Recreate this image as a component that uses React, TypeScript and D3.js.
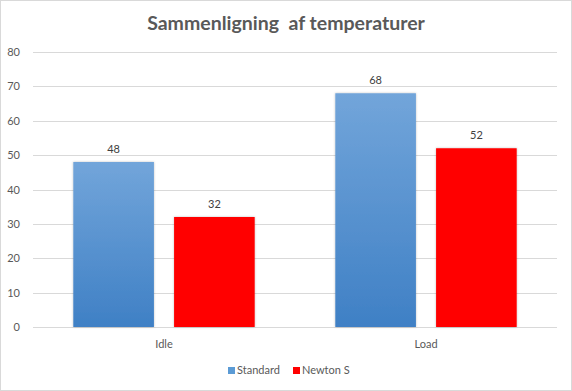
import React, { useRef, useEffect } from 'react'
import * as d3 from 'd3'

const categories = ['Idle', 'Load']
const seriesNames = ['Standard', 'Newton S']
const standardValues = [48, 68]
const newtonValues = [32, 52]
const yTicks = [0, 10, 20, 30, 40, 50, 60, 70, 80]

const width = 572
const height = 391
const font = 'Lato, "Open Sans", sans-serif'

const App = () => {
  const ref = useRef<SVGSVGElement>(null)

  useEffect(() => {
    document.body.style.margin = '0'
    const svg = d3.select(ref.current)
    svg.selectAll('*').remove()

    const margin = { top: 52, right: 15, bottom: 63, left: 33 }
    const x0 = d3.scaleBand().domain(categories).range([margin.left, width - margin.right]).paddingInner(0).paddingOuter(0)
    const x1 = d3.scaleBand().domain(seriesNames).range([0, x0.bandwidth()]).paddingInner(0.2).paddingOuter(0.4)
    const y = d3.scaleLinear().domain([0, 80]).range([height - margin.bottom - 1, margin.top])

    const defs = svg.append('defs')
    const grad = defs.append('linearGradient').attr('id', 'blueGrad').attr('x1', 0).attr('y1', 0).attr('x2', 0).attr('y2', 1)
    grad.append('stop').attr('offset', '0%').attr('stop-color', '#72a5da')
    grad.append('stop').attr('offset', '100%').attr('stop-color', '#3f80c5')
    const shadow = defs.append('filter').attr('id', 'shadow').attr('x', '-10%').attr('y', '-10%').attr('width', '120%').attr('height', '120%')
    shadow.append('feDropShadow').attr('dx', 0).attr('dy', 0).attr('stdDeviation', 1.2).attr('flood-color', '#000').attr('flood-opacity', 0.25)

    svg.append('rect').attr('x', 0.5).attr('y', 0.5).attr('width', width - 1).attr('height', height - 1)
      .attr('fill', '#fff').attr('stroke', '#d9d9d9')

    svg.append('text').attr('x', width / 2).attr('y', 30).attr('text-anchor', 'middle')
      .attr('font-family', font).attr('font-size', 19.5).attr('font-weight', 'bold').attr('fill', '#595959')
      .attr('xml:space', 'preserve')
      .text('Sammenligning  af temperaturer')

    const grid = svg.append('g')
    grid.selectAll('line').data(yTicks).enter().append('line')
      .attr('x1', margin.left).attr('x2', width - margin.right)
      .attr('y1', d => Math.round(y(d)) + 0.5).attr('y2', d => Math.round(y(d)) + 0.5)
      .attr('stroke', '#d9d9d9')

    grid.selectAll('text').data(yTicks).enter().append('text')
      .attr('x', 20).attr('y', d => y(d) + 4).attr('text-anchor', 'end')
      .attr('font-family', font).attr('font-size', 11).attr('fill', '#595959')
      .text(d => d)

    const series = [
      { name: seriesNames[0], values: standardValues, fill: 'url(#blueGrad)' },
      { name: seriesNames[1], values: newtonValues, fill: '#ff0000' }
    ]

    series.forEach(s => {
      const g = svg.append('g')
      g.selectAll('rect').data(s.values).enter().append('rect')
        .attr('x', (d, i) => x0(categories[i])! + x1(s.name)!)
        .attr('y', d => y(d))
        .attr('width', x1.bandwidth())
        .attr('height', d => y(0) - y(d))
        .attr('fill', s.fill)
        .attr('filter', 'url(#shadow)')
      g.selectAll('text').data(s.values).enter().append('text')
        .attr('x', (d, i) => x0(categories[i])! + x1(s.name)! + x1.bandwidth() / 2)
        .attr('y', d => y(d) - 9)
        .attr('text-anchor', 'middle')
        .attr('font-family', font).attr('font-size', 11).attr('fill', '#404040')
        .text(d => d)
    })

    svg.append('g').selectAll('text').data(categories).enter().append('text')
      .attr('x', d => x0(d)! + x0.bandwidth() / 2).attr('y', height - margin.bottom + 20)
      .attr('text-anchor', 'middle')
      .attr('font-family', font).attr('font-size', 11).attr('fill', '#595959')
      .text(d => d)

    const legend = svg.append('g')
    const legendX = [228, 293]
    series.forEach((s, i) => {
      legend.append('rect').attr('x', legendX[i]).attr('y', 367).attr('width', 7).attr('height', 7)
        .attr('fill', i === 0 ? '#5b9bd5' : '#ff0000')
      legend.append('text').attr('x', legendX[i] + 9).attr('y', 374)
        .attr('font-family', font).attr('font-size', 11).attr('fill', '#595959')
        .text(s.name)
    })
  }, [])

  return <svg ref={ref} width={width} height={height} style={{ display: 'block' }} />
}

export default App
